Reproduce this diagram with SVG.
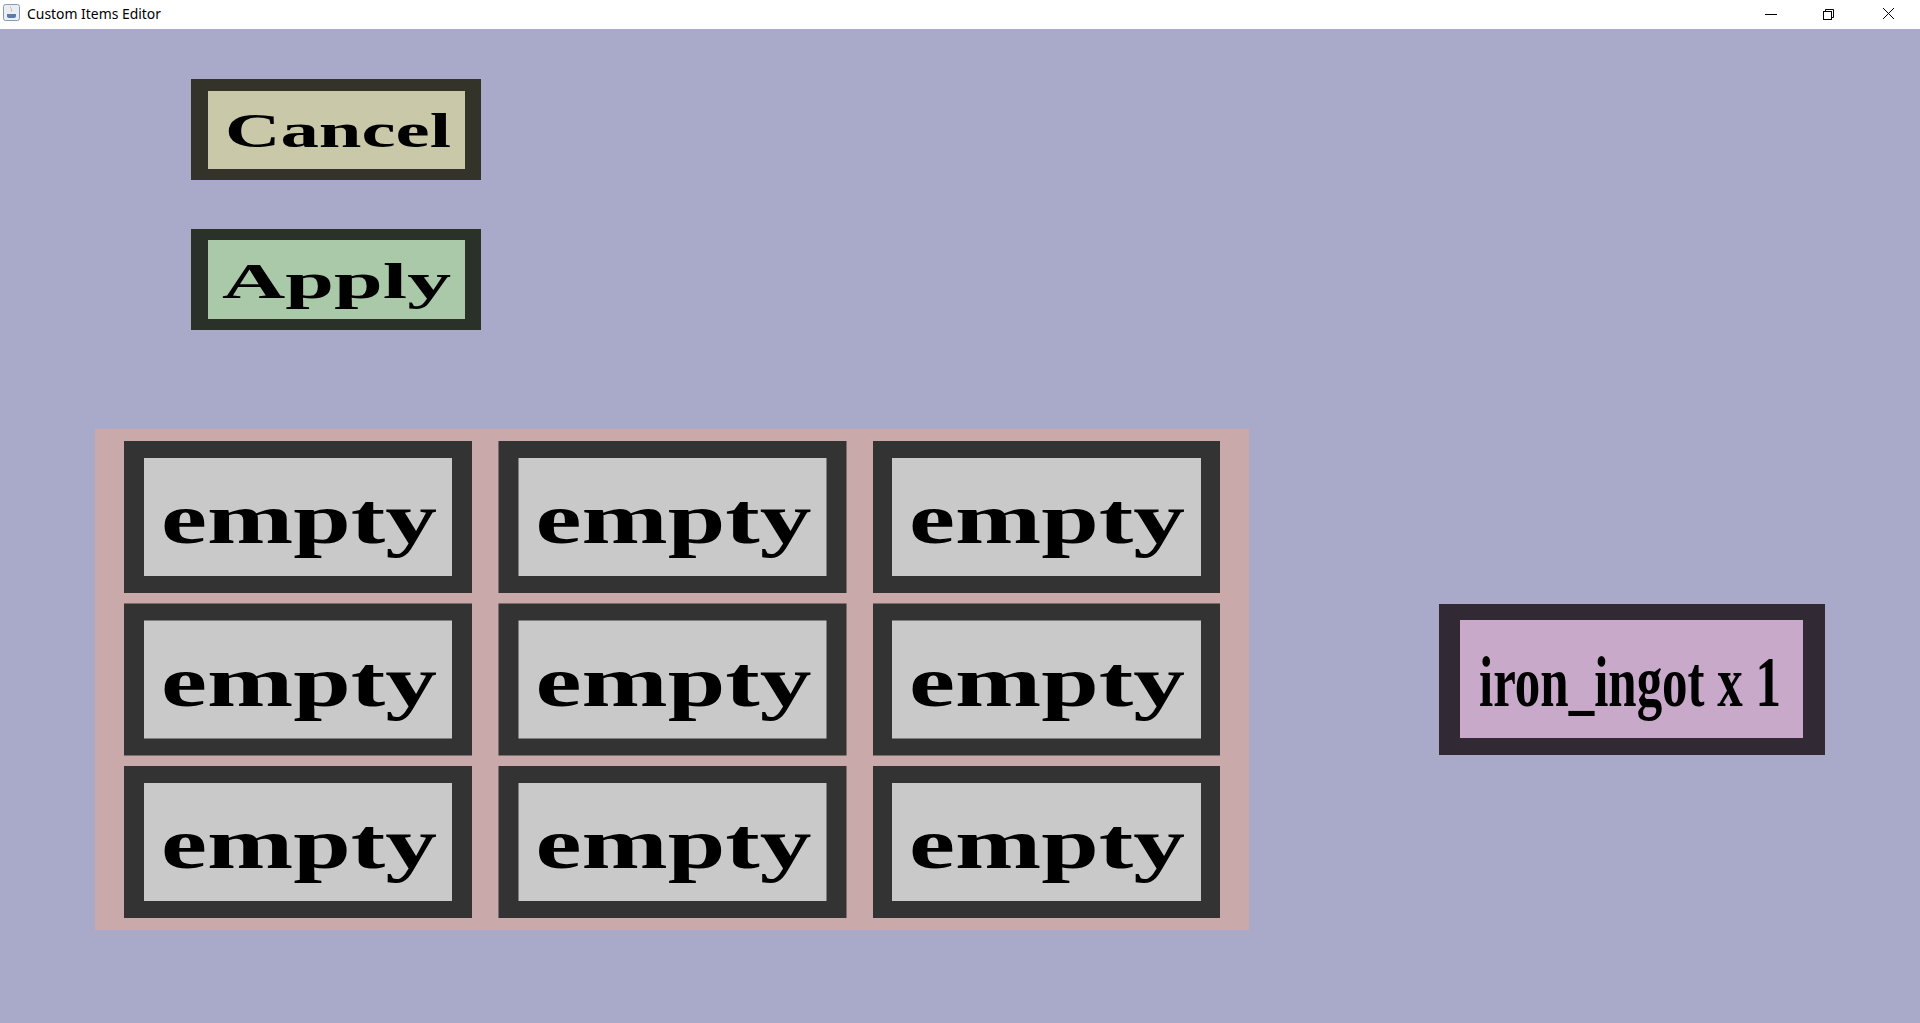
<svg xmlns="http://www.w3.org/2000/svg" width="1920" height="1023" viewBox="0 0 1920 1023">
<style>
.bg{fill:#A9A9C9}
.lbl{font-family:"Liberation Serif","Times New Roman",serif;font-weight:bold;fill:#000}
.cellO{fill:#333333}
.cellI{fill:#C9C9C9}
.empty{font-size:72px}
.title{font-family:"Noto Sans","Open Sans",sans-serif;font-size:13.5px;fill:#000}
.ctl{stroke:#000;stroke-width:1;fill:none}
</style>
<rect class="bg" x="0" y="0" width="1920" height="1023"/>
<g id="titlebar">
<rect x="0" y="0" width="1920" height="29" fill="#FFFFFF"/>
<rect x="3.5" y="4.5" width="16" height="16" rx="2" fill="#E8EEF4" stroke="#8A9AB0"/>
<path d="M7 14 h9 v2 a3 2 0 0 1 -3 2 h-3 a3 2 0 0 1 -3 -2z" fill="#5A7CA8"/>
<path d="M11 6 c-2 2 2 3 0 6 c3 -2 -1 -3 0 -6z" fill="#E07020"/>
<text class="title" x="27" y="19" textLength="134" lengthAdjust="spacingAndGlyphs">Custom Items Editor</text>
<line class="ctl" x1="1765" y1="14.5" x2="1777" y2="14.5"/>
<rect class="ctl" x="1823.5" y="11.5" width="8" height="8"/>
<path class="ctl" d="M1825.5 11.5 v-2 h8 v8 h-2"/>
<path class="ctl" d="M1883 8 L1894 19 M1894 8 L1883 19"/>
</g>
<g id="cancel">
<rect x="191" y="79" width="290" height="101" fill="#333329"/>
<rect x="208" y="91" width="257" height="78" fill="#C9C9A9"/>
<text class="lbl" x="225" y="147" font-size="48" textLength="226" lengthAdjust="spacingAndGlyphs">Cancel</text>
</g>
<g id="apply">
<rect x="191" y="229" width="290" height="101" fill="#293129"/>
<rect x="208" y="240" width="257" height="79" fill="#A9C9A9"/>
<text class="lbl" x="222" y="298" font-size="50" textLength="229" lengthAdjust="spacingAndGlyphs">Apply</text>
</g>
<g id="grid">
<rect x="95" y="429" width="1154" height="501" fill="#C9A9A9"/>
</g>
<g id="cell-1-1"><rect class="cellO" x="124" y="441" width="348" height="152"/><rect class="cellI" x="144" y="458" width="308" height="118"/><text class="lbl empty" x="161" y="543" textLength="276" lengthAdjust="spacingAndGlyphs">empty</text></g>
<g id="cell-1-2"><rect class="cellO" x="498.5" y="441" width="348" height="152"/><rect class="cellI" x="518.5" y="458" width="308" height="118"/><text class="lbl empty" x="535.5" y="543" textLength="276" lengthAdjust="spacingAndGlyphs">empty</text></g>
<g id="cell-1-3"><rect class="cellO" x="873" y="441" width="347" height="152"/><rect class="cellI" x="892" y="458" width="309" height="118"/><text class="lbl empty" x="909" y="543" textLength="276" lengthAdjust="spacingAndGlyphs">empty</text></g>
<g id="cell-2-1"><rect class="cellO" x="124" y="603.5" width="348" height="152"/><rect class="cellI" x="144" y="620.5" width="308" height="118"/><text class="lbl empty" x="161" y="705.5" textLength="276" lengthAdjust="spacingAndGlyphs">empty</text></g>
<g id="cell-2-2"><rect class="cellO" x="498.5" y="603.5" width="348" height="152"/><rect class="cellI" x="518.5" y="620.5" width="308" height="118"/><text class="lbl empty" x="535.5" y="705.5" textLength="276" lengthAdjust="spacingAndGlyphs">empty</text></g>
<g id="cell-2-3"><rect class="cellO" x="873" y="603.5" width="347" height="152"/><rect class="cellI" x="892" y="620.5" width="309" height="118"/><text class="lbl empty" x="909" y="705.5" textLength="276" lengthAdjust="spacingAndGlyphs">empty</text></g>
<g id="cell-3-1"><rect class="cellO" x="124" y="766" width="348" height="152"/><rect class="cellI" x="144" y="783" width="308" height="118"/><text class="lbl empty" x="161" y="868" textLength="276" lengthAdjust="spacingAndGlyphs">empty</text></g>
<g id="cell-3-2"><rect class="cellO" x="498.5" y="766" width="348" height="152"/><rect class="cellI" x="518.5" y="783" width="308" height="118"/><text class="lbl empty" x="535.5" y="868" textLength="276" lengthAdjust="spacingAndGlyphs">empty</text></g>
<g id="cell-3-3"><rect class="cellO" x="873" y="766" width="347" height="152"/><rect class="cellI" x="892" y="783" width="309" height="118"/><text class="lbl empty" x="909" y="868" textLength="276" lengthAdjust="spacingAndGlyphs">empty</text></g>
<g id="result">
<rect x="1439" y="604" width="386" height="151" fill="#312933"/>
<rect x="1460" y="620" width="343" height="118" fill="#C9A9C9"/>
<text class="lbl" x="1479" y="706" font-size="72" textLength="302" lengthAdjust="spacingAndGlyphs">iron_ingot x 1</text>
</g>
<g id="connectors"></g>
</svg>
